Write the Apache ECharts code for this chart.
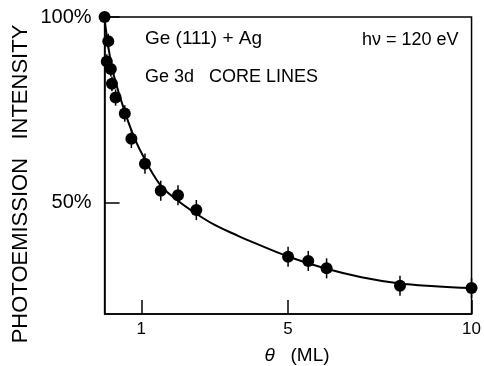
<!DOCTYPE html>
<html>
<head>
<meta charset="utf-8">
<script src="https://cdn.jsdelivr.net/npm/echarts@6/dist/echarts.min.js"></script>
<style>html,body{margin:0;padding:0;background:#fff}#c{width:484px;height:366px}</style>
</head>
<body>
<div id="c"></div>
<script>
// Measured data points (coverage in ML, intensity in %)
var coverage = [0, 0.1, 0.06, 0.17, 0.2, 0.3, 0.55, 0.73, 1.1, 1.53, 2.0, 2.5, 5.0, 5.55, 6.05, 8.05, 10.0];
var intensity = [100, 93.5, 88, 86, 82, 78.3, 74, 67.2, 60.5, 53.2, 52, 48, 35.4, 34.3, 32.3, 27.6, 27];
var errorBar = [0.8, 2, 2, 2, 2, 2.2, 2.2, 2.5, 2.7, 2.7, 2.7, 2.7, 2.7, 2.7, 2.7, 2.7, 2.7];
// Fitted curve
var curveX = [0, 0.1, 0.2, 0.3, 0.5, 0.75, 1, 1.5, 2, 2.5, 3, 3.65, 4, 5, 6, 7, 8, 9, 10];
var curveY = [99.5, 92, 86.5, 82.5, 76, 69, 63.5, 55, 50.5, 47, 44, 41, 39.5, 35.5, 32.3, 29.9, 28.3, 27.5, 27];
var xTicks = [1, 5, 10];
var yTicks = [50, 100];

var points = coverage.map(function (x, i) { return [x, intensity[i], errorBar[i]]; });
var curve = curveX.map(function (x, i) { return [x, curveY[i]]; });

var font = '"Liberation Sans", Arial, sans-serif';
var chart = echarts.init(document.getElementById('c'));
chart.setOption({
  animation: false,
  backgroundColor: '#fff',
  grid: { left: 104.6, right: 8.6, top: 17, bottom: 52, show: true, borderColor: '#000', borderWidth: 1.5, backgroundColor: 'transparent' },
  xAxis: {
    type: 'value', min: 0, max: 10,
    axisLine: { lineStyle: { color: '#000', width: 1.5 } },
    axisTick: { inside: true, length: 14, customValues: xTicks, lineStyle: { color: '#000', width: 1.5 } },
    axisLabel: { customValues: xTicks, color: '#000', fontSize: 17, fontFamily: font, margin: 7 },
    splitLine: { show: false }
  },
  yAxis: {
    type: 'value', min: 20, max: 100,
    axisLine: { lineStyle: { color: '#000', width: 1.5 } },
    axisTick: { inside: true, length: 15, customValues: yTicks, lineStyle: { color: '#000', width: 1.5 } },
    axisLabel: { customValues: yTicks, formatter: '{value}%', color: '#000', fontSize: 20, fontFamily: font, margin: 13 },
    splitLine: { show: false }
  },
  graphic: [
    { type: 'text', x: 21, y: 184, rotation: Math.PI / 2, style: { text: 'PHOTOEMISSION   INTENSITY', fontSize: 22, fontFamily: font, fill: '#000', textAlign: 'center', textVerticalAlign: 'middle' } },
    { type: 'text', x: 297, y: 356, style: { text: '{t|θ}   (ML)', fontSize: 19, fontFamily: font, fill: '#000', textAlign: 'center', textVerticalAlign: 'middle', rich: { t: { fontStyle: 'italic', fontSize: 19, fontFamily: font, fill: '#000' } } } },
    { type: 'text', x: 145, y: 39, style: { text: 'Ge (111) + Ag', fontSize: 19, fontFamily: font, fill: '#000', textAlign: 'left', textVerticalAlign: 'middle' } },
    { type: 'text', x: 362, y: 40, style: { text: 'hν = 120 eV', fontSize: 18, fontFamily: font, fill: '#000', textAlign: 'left', textVerticalAlign: 'middle' } },
    { type: 'text', x: 145, y: 77, style: { text: 'Ge 3d   CORE LINES', fontSize: 18, fontFamily: font, fill: '#000', textAlign: 'left', textVerticalAlign: 'middle' } }
  ],
  series: [
    {
      type: 'line', data: curve, smooth: 0.4, symbol: 'none',
      lineStyle: { color: '#000', width: 2 }, z: 2
    },
    {
      type: 'custom', data: points, z: 3,
      renderItem: function (params, api) {
        var x = api.value(0), y = api.value(1), e = api.value(2);
        var p1 = api.coord([x, y - e]), p2 = api.coord([x, y + e]);
        return { type: 'line', shape: { x1: p1[0], y1: p1[1], x2: p2[0], y2: p2[1] }, style: { stroke: '#000', lineWidth: 1.5 } };
      }
    },
    {
      type: 'scatter', data: points, symbol: 'circle', symbolSize: 12,
      itemStyle: { color: '#000', opacity: 1 }, z: 4
    }
  ]
});
</script>
</body>
</html>
